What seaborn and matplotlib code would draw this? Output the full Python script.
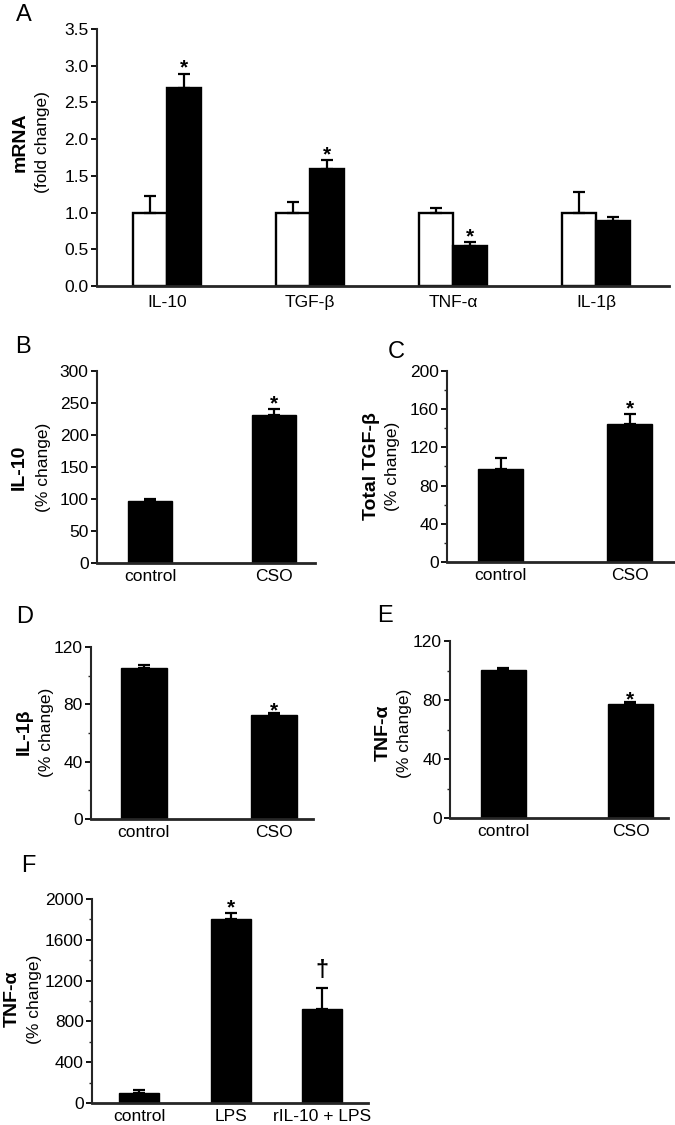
import numpy as np
import pandas as pd
import matplotlib
matplotlib.use("Agg")
import matplotlib.pyplot as plt
import seaborn as sns
from matplotlib.ticker import MultipleLocator, FormatStrFormatter

# ---------------- data ----------------
A_genes = ["IL-10", "TGF-β", "TNF-α", "IL-1β"]
A_groups = ["control", "CSO"]
A_control = [1.00, 1.00, 1.00, 1.00]
A_control_err = [0.23, 0.15, 0.06, 0.28]
A_cso = [2.70, 1.60, 0.54, 0.88]
A_cso_err = [0.19, 0.11, 0.06, 0.06]
A_cso_marks = ["*", "*", "*", ""]

BE_groups = ["control", "CSO"]
B_vals = [97, 232]
B_err = [2.5, 8.5]
B_marks = ["", "*"]

C_vals = [97, 145]
C_err = [11.5, 10]
C_marks = ["", "*"]

D_vals = [105.5, 72.3]
D_err = [1.8, 1.4]
D_marks = ["", "*"]

E_vals = [100.4, 77.0]
E_err = [1.0, 1.4]
E_marks = ["", "*"]

F_groups = ["control", "LPS", "rIL-10 + LPS"]
F_vals = [102, 1800, 917]
F_err = [29, 64, 212]
F_marks = ["", "*", "†"]

# ---------------- style ----------------
sns.set_style("ticks")
plt.rcParams["font.family"] = ["Liberation Sans", "DejaVu Sans"]
plt.rcParams["text.color"] = "black"

W, H = 675, 1125
fig = plt.figure(figsize=(W / 100, H / 100), dpi=100)


def axes_px(left, top, right, bottom):
    return fig.add_axes([left / W, 1 - bottom / H, (right - left) / W, (bottom - top) / H])


def style_axes(ax, ymax, major, minor, fmt, xlim, xpad=4):
    ax.set_xlim(*xlim)
    ax.set_ylim(0, ymax)
    ax.yaxis.set_major_locator(MultipleLocator(major))
    if minor:
        ax.yaxis.set_minor_locator(MultipleLocator(minor))
    ax.yaxis.set_major_formatter(FormatStrFormatter(fmt))
    for s in ["top", "right"]:
        ax.spines[s].set_visible(False)
    ax.spines["left"].set_linewidth(1.5)
    ax.spines["bottom"].set_linewidth(2.0)
    ax.tick_params(axis="y", which="major", direction="out", length=4.5, width=1.3,
                   pad=1.5, labelsize=12.5, colors="black")
    ax.tick_params(axis="y", which="minor", direction="out", length=2.5, width=1.0)
    ax.tick_params(axis="x", length=0, pad=xpad, labelsize=12.5, colors="black")
    ax.set_xlabel("")
    ax.set_ylabel("")


def add_err_marks(ax, bars, vals, errs, marks, off):
    xs = [b.get_x() + b.get_width() / 2 for b in bars]
    ax.errorbar(xs, vals, yerr=[np.zeros(len(errs)), errs], fmt="none", ecolor="black",
                elinewidth=1.6, capsize=4, capthick=1.6, zorder=1)
    for x, v, e, m in zip(xs, vals, errs, marks):
        if not m:
            continue
        if m == "*":
            ax.annotate(m, xy=(x, v + e), xytext=(0, off), textcoords="offset pixels",
                        ha="center", va="baseline", fontsize=15, fontweight="bold")
        else:
            ax.annotate(m, xy=(x, v + e), xytext=(0, 11), textcoords="offset pixels",
                        ha="center", va="baseline", fontsize=17, fontweight="bold")


def simple_panel(ax, cats, vals, errs, marks, width, off):
    sns.barplot(x=cats, y=vals, order=cats, color="black", saturation=1, width=width,
                errorbar=None, edgecolor="black", linewidth=1, ax=ax)
    bars = ax.containers[0]
    add_err_marks(ax, bars, vals, errs, marks, off)


def ylabels(xb, xr, y, bold, regular):
    fig.text(xb / W, 1 - y / H, bold, rotation=90, ha="center", va="center",
             fontsize=14, fontweight="bold")
    fig.text(xr / W, 1 - y / H, regular, rotation=90, ha="center", va="center",
             fontsize=12.5)


def letter(x, y, s):
    fig.text(x / W, 1 - y / H, s, ha="center", va="center", fontsize=17)


# ---------------- Panel A ----------------
axA = axes_px(97, 29, 669, 286)
dfA = pd.DataFrame({
    "gene": A_genes * 2,
    "group": ["control"] * 4 + ["CSO"] * 4,
    "value": A_control + A_cso,
})
sns.barplot(data=dfA, x="gene", y="value", hue="group", order=A_genes, hue_order=A_groups,
            palette={"control": "white", "CSO": "black"}, saturation=1, width=0.476,
            errorbar=None, edgecolor="black", linewidth=1.7, legend=False, ax=axA)
ctrl_bars, cso_bars = axA.containers[0], axA.containers[1]
add_err_marks(axA, ctrl_bars, A_control, A_control_err, [""] * 4, 0)
add_err_marks(axA, cso_bars, A_cso, A_cso_err, A_cso_marks, 0)
style_axes(axA, 3.5, 0.5, None, "%.1f", (-0.49, 3.51), xpad=6.5)
ylabels(20, 42, 142, "mRNA", "(fold change)")
letter(24, 15, "A")

# ---------------- Panel B ----------------
axB = axes_px(97, 371, 315, 563)
simple_panel(axB, BE_groups, B_vals, B_err, B_marks, 0.355, 0)
style_axes(axB, 300, 50, None, "%d", (-0.43, 1.33))
ylabels(19, 44, 467, "IL-10", "(% change)")
letter(23, 347, "B")

# ---------------- Panel C ----------------
axC = axes_px(447, 371, 674, 562)
simple_panel(axC, BE_groups, C_vals, C_err, C_marks, 0.349, 0)
style_axes(axC, 200, 40, 20, "%d", (-0.415, 1.345))
ylabels(372, 393, 466, "Total TGF-β", "(% change)")
letter(396, 352, "C")

# ---------------- Panel D ----------------
axD = axes_px(91, 647, 313, 819)
simple_panel(axD, BE_groups, D_vals, D_err, D_marks, 0.354, -3)
style_axes(axD, 120, 40, 20, "%d", (-0.405, 1.30))
ylabels(24, 47, 732, "IL-1β", "(% change)")
letter(25, 617, "D")

# ---------------- Panel E ----------------
axE = axes_px(450, 641, 668, 818)
simple_panel(axE, BE_groups, E_vals, E_err, E_marks, 0.353, -3)
style_axes(axE, 120, 40, 20, "%d", (-0.418, 1.295))
ylabels(383, 405, 733, "TNF-α", "(% change)")
letter(385, 616, "E")

# ---------------- Panel F ----------------
axF = axes_px(92, 899, 368, 1103)
simple_panel(axF, F_groups, F_vals, F_err, F_marks, 0.437, -1)
style_axes(axF, 2000, 400, 200, "%d", (-0.517, 2.503))
ylabels(12.5, 35, 999, "TNF-α", "(% change)")
letter(28, 866, "F")

fig.savefig("out.png", dpi=100)
